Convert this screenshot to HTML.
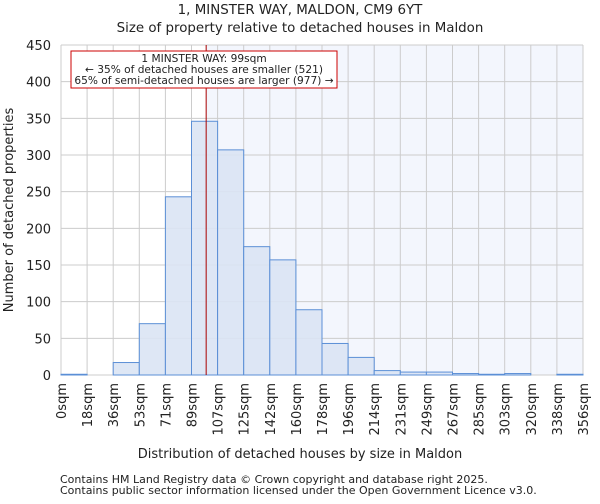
<!DOCTYPE html>
<html><head><meta charset="utf-8"><style>
body{margin:0;background:#fff;font-family:"DejaVu Sans","Liberation Sans",sans-serif;}
svg text{font-family:"DejaVu Sans","Liberation Sans",sans-serif;fill:#222;}
</style></head><body>
<svg id="c" width="600" height="500" xmlns="http://www.w3.org/2000/svg">
<text x="300" y="14" text-anchor="middle" font-size="13.4">1, MINSTER WAY, MALDON, CM9 6YT</text>
<text x="300" y="32" text-anchor="middle" font-size="13.4">Size of property relative to detached houses in Maldon</text>
<g id="plot"></g>
<text x="300" y="458" text-anchor="middle" font-size="13">Distribution of detached houses by size in Maldon</text>
<text transform="translate(13,210) rotate(-90)" text-anchor="middle" font-size="13">Number of detached properties</text>
<text x="60" y="483" font-size="11">Contains HM Land Registry data © Crown copyright and database right 2025.</text>
<text x="60" y="494" font-size="11">Contains public sector information licensed under the Open Government Licence v3.0.</text>
</svg>
<script>
const binLabels=["0sqm","18sqm","36sqm","53sqm","71sqm","89sqm","107sqm","125sqm","142sqm","160sqm","178sqm","196sqm","214sqm","231sqm","249sqm","267sqm","285sqm","303sqm","320sqm","338sqm","356sqm"];
const counts=[1,0,17,70,243,346,307,175,157,89,43,24,6,4,4,2,1,2,0,1];
const yTicks=[0,50,100,150,200,250,300,350,400,450];
const propertySize=99;
const binEdges=[0,17.8,35.6,53.4,71.2,89,106.8,124.6,142.4,160.2,178,195.8,213.6,231.4,249.2,267,284.8,302.6,320.4,338.2,356];
const NS="http://www.w3.org/2000/svg";
const X0=61,X1=583,Y0=375,Y1=45;
const xs=v=>X0+(v-binEdges[0])/(binEdges[binEdges.length-1]-binEdges[0])*(X1-X0);
const ys=v=>Y0-v/450*(Y0-Y1);
const g=document.getElementById('plot');
function mk(t,a){const e=document.createElementNS(NS,t);for(const k in a)e.setAttribute(k,a[k]);g.appendChild(e);return e;}
const lx=xs(propertySize);
let r=mk('rect',{x:lx,y:Y1,width:X1-lx,height:Y0-Y1,fill:'#f3f6fd'});


yTicks.forEach(t=>{
 let l=mk('line',{x1:X0,x2:X1,y1:ys(t),y2:ys(t),stroke:'#cccccc','stroke-width':1});
 
 
 let tx=mk('text',{x:X0-10,y:ys(t)+5,'text-anchor':'end','font-size':13});
 tx.textContent=t;
 
 
});
binEdges.forEach((b,i)=>{
 let l=mk('line',{x1:xs(b),x2:xs(b),y1:Y1,y2:Y0,stroke:'#cccccc','stroke-width':1});
 
 
 let tx=mk('text',{transform:`translate(${xs(b)+5},${Y0+8}) rotate(-90)`,'text-anchor':'end','font-size':13});
 tx.textContent=binLabels[i];
 
 
});
counts.forEach((c,i)=>{
 let b=mk('rect',{x:xs(binEdges[i]),y:ys(c),width:xs(binEdges[i+1])-xs(binEdges[i]),height:Y0-ys(c),fill:'#dae4f4','fill-opacity':0.9,stroke:'#5b8fd6','stroke-width':1});
 
 
});
let pl=mk('line',{x1:lx,x2:lx,y1:Y1,y2:Y0,stroke:'#aa0000','stroke-width':1});


let ab=mk('rect',{x:71,y:51,width:266,height:37,fill:'#fff',stroke:'#cc0000','stroke-width':1});


["1 MINSTER WAY: 99sqm","← 35% of detached houses are smaller (521)","65% of semi-detached houses are larger (977) →"].forEach((s,i)=>{
 let t=mk('text',{x:204,y:62+i*11,'text-anchor':'middle','font-size':10.6});
 t.textContent=s;
 
 
});
</script>
</body></html>
